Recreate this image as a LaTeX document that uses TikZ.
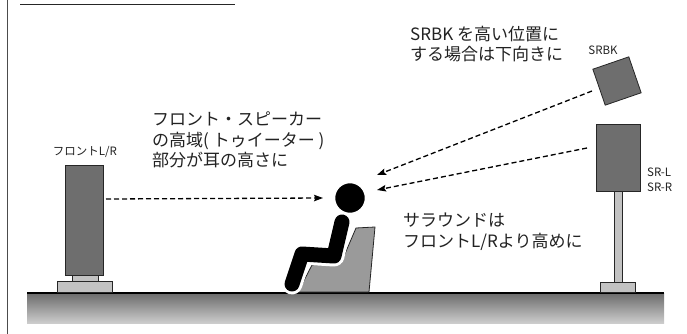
\documentclass[tikz,border=0pt]{standalone}
\usepackage{fontspec}
\setmainfont{Noto Sans CJK JP}
\usetikzlibrary{arrows.meta}
\definecolor{spkgray}{HTML}{6E6E6E}
\definecolor{standgray}{HTML}{C2C2C2}
\definecolor{chairgray}{HTML}{9A9A9A}
\definecolor{inkgray}{HTML}{222222}
\tikzset{
  spkbox/.style={draw=black!85, fill=spkgray, line width=0.8pt, inner sep=0pt},
  standbox/.style={draw=black!85, fill=standgray, line width=0.8pt, inner sep=0pt},
  bigtext/.style={text=inkgray, inner sep=0pt, align=left,
    font=\fontsize{17}{20.5}\selectfont},
  smalltext/.style={text=inkgray, inner sep=0pt, align=left,
    font=\fontsize{11.5}{15}\selectfont},
  sound/.style={line width=1.3pt, dash pattern=on 5pt off 3pt,
    -{Stealth[length=9pt,width=6.5pt,inset=1.5pt]}},
}
\begin{document}
\begin{tikzpicture}[x=1pt,y=-1pt]
\useasboundingbox (0,0) rectangle (687,334);

% page frame and heading rule
\draw[black!70, line width=1.3pt] (7.5,0) -- (7.5,334);
\draw[black!85, line width=1.2pt] (20,4.5) -- (235,4.5);

% floor
\shade[top color=black!58, bottom color=black!20] (27,293) rectangle (664,323);
\draw[black, line width=2pt] (27,293) -- (664,293);

% front speaker
\node[spkbox, minimum width=38pt, minimum height=110pt] (front) at (84,220) {};
\node[standbox, minimum width=26pt, minimum height=6pt] (frontneck) at (85,278) {};
\node[standbox, minimum width=55pt, minimum height=11pt] (frontbase) at (84.5,286.5) {};
\node[smalltext] (frontlbl) at (85,152) {フロントL/R};

% surround speaker on its stand
\node[spkbox, minimum width=44pt, minimum height=67pt] (sr) at (618,157.5) {};
\node[standbox, minimum width=8pt, minimum height=92pt] (srpole) at (618,237) {};
\node[standbox, minimum width=35pt, minimum height=10pt] (srbase) at (618,287.5) {};
\node[smalltext, anchor=west] (srlbl) at (647,179.5) {SR-L\\SR-R};

% surround back speaker, tilted down
\node[spkbox, minimum width=38pt, minimum height=38pt, rotate=19] (srbk) at (617,81) {};
\node[smalltext] (srbklbl) at (603,50) {SRBK};

% chair
\draw[fill=chairgray, draw=black!85, line width=0.8pt]
  (298,292) -- (312,265) -- (341,263) -- (356,228) -- (375,227) -- (369,292) -- cycle;

% listener
\draw[white, line width=21pt, line cap=round, line join=round]
  (342,222) -- (334,256) -- (302,254) -- (292,284);
\draw[black, line width=15pt, line cap=round, line join=round]
  (342,222) -- (334,256) -- (302,254) -- (292,284);
\node[circle, fill=black, draw=white, line width=1.5pt, minimum size=31pt, inner sep=0pt] (head) at (350,198) {};

% sound paths towards the ears
\coordinate (frontout) at (106,199);
\coordinate (earA) at (323,198);
\coordinate (srbkout) at (592,91);
\coordinate (earB) at (377,175);
\coordinate (srout) at (587,148);
\coordinate (earC) at (377,190);
\draw[sound] (frontout) -- (earA);
\draw[sound] (srbkout) -- (earB);
\draw[sound] (srout) -- (earC);

% captions
\node[bigtext, anchor=north west] (capfront) at (152,112)
  {フロント・スピーカー\\の高域( トゥイーター )\\部分が耳の高さに};
\node[bigtext, anchor=north west] (capsrbk) at (410,26)
  {SRBK を高い位置に\\する場合は下向きに};
\node[bigtext, anchor=north west] (capsr) at (403,213)
  {サラウンドは\\フロントL/Rより高めに};
\end{tikzpicture}
\end{document}
